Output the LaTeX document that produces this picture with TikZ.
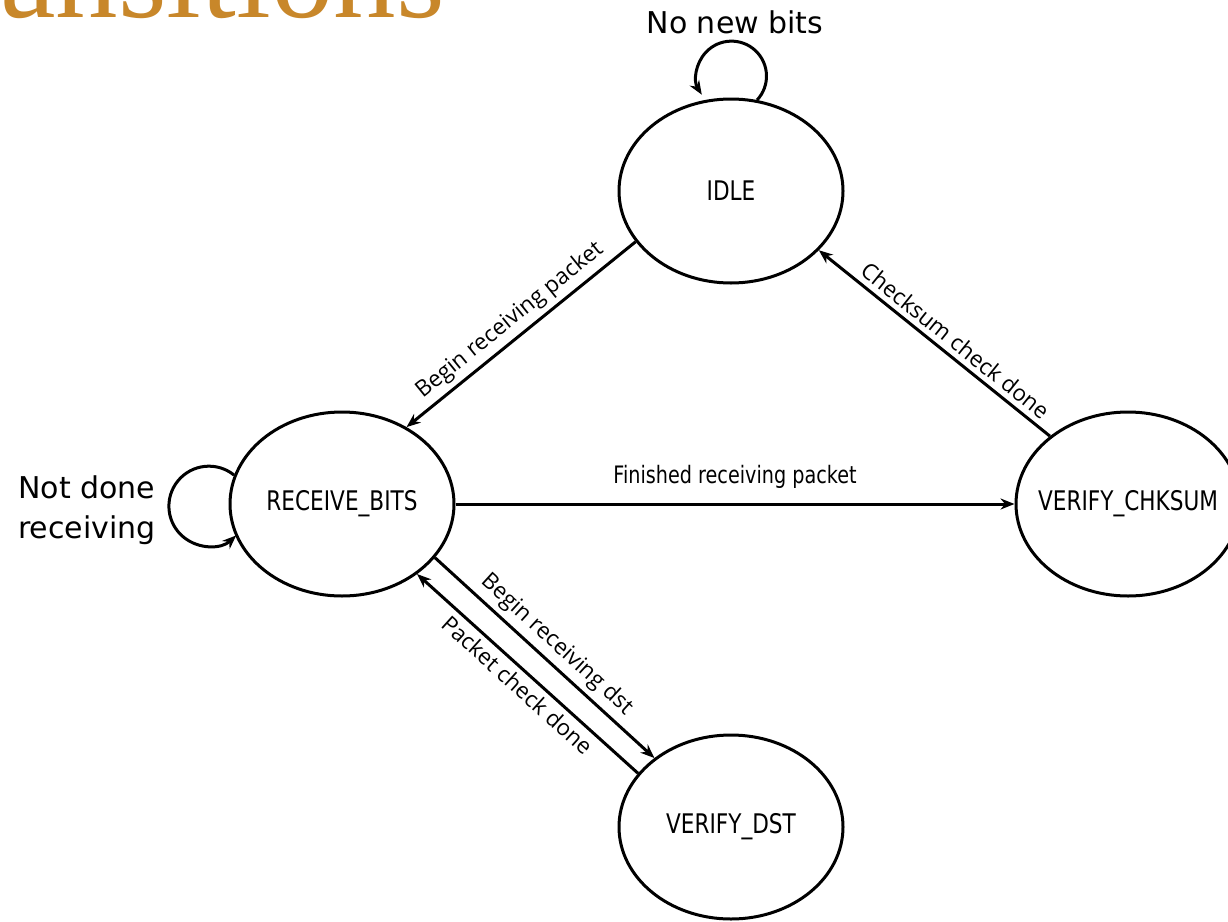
\documentclass[tikz,border=0pt]{standalone}
\usepackage{fontspec}
\usetikzlibrary{shapes.geometric,arrows.meta}
\newfontfamily\statefont[FakeStretch=0.8]{DejaVu Sans}
\newfontfamily\loopfont{DejaVu Sans}
\newfontfamily\edgefont{Open Sans}
\newfontfamily\titlefont{Liberation Serif}
\definecolor{titlegold}{HTML}{C8872A}
\newcommand{\zw}[1]{\makebox[0pt]{#1}}
\begin{document}
\begin{tikzpicture}[x=1pt,y=1pt,
  state/.style={ellipse, draw, line width=3pt, minimum width=224pt, minimum height=184pt, inner sep=0pt, font=\statefont\fontsize{27}{30}\selectfont},
  trans/.style={line width=3pt, -{Stealth[length=14pt,width=11pt]}},
  elabel/.style={font=\edgefont\fontsize{22.5}{26}\selectfont, sloped, inner sep=5pt},
  hlabel/.style={font=\statefont\fontsize{24}{28}\selectfont, inner sep=14pt},
  looplabel/.style={font=\loopfont\fontsize{30}{40}\selectfont, align=left, inner sep=0pt}]
\useasboundingbox (0,0) rectangle (1228,-921);
\clip (0,0) rectangle (1228,-921);
\node[anchor=base east, inner sep=0pt, text=titlegold, font=\titlefont\fontsize{125}{125}\selectfont] (title) at (445,-17) {ansitions};
\node[state] (idle) at (731,-191) {\zw{IDLE}};
\node[state] (recv) at (342,-504) {\zw{RECEIVE\_BITS}};
\node[state] (chk) at (1128,-504) {\zw{VERIFY\_CHKSUM}};
\node[state] (dst) at (731,-827) {\zw{VERIFY\_DST}};
% self loops
\draw[trans] (idle.74) arc[start angle=-43, end angle=212, radius=35];
\node[looplabel] (idleloop) at (735,-22) {No new bits};
\draw[trans] (recv.165) arc[start angle=51, end angle=313, radius=40];
\node[looplabel, anchor=west] (recvloop) at (18,-510) {Not done\\receiving};
% transitions
\draw[trans] (idle.208) -- node[elabel, above] (l1) {Begin receiving packet} (recv.50);
\draw[trans] (chk.139) -- node[elabel, above, pos=0.45] (l2) {Checksum check done} (idle.-34);
\draw[trans] (recv.east) -- node[hlabel, above] (l3) {Finished receiving packet} (chk.west);
\draw[trans] (recv.-30) -- node[elabel, above] (l4) {Begin receiving dst} (dst.138);
\draw[trans] (dst.150) -- node[elabel, below] (l5) {Packet check done} (recv.-43);
\end{tikzpicture}
\end{document}
